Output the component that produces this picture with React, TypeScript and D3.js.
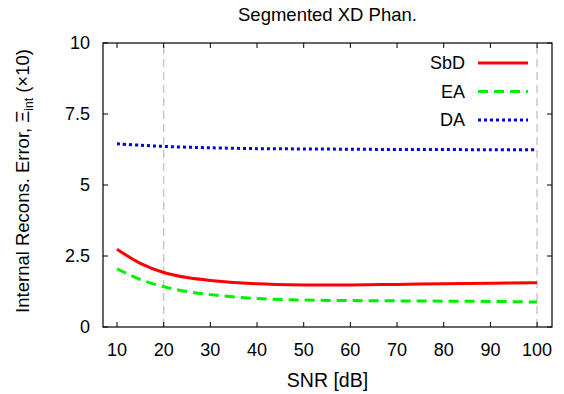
import React, { useEffect, useRef } from "react";
import * as d3 from "d3";

const snr = [10, 15, 20, 25, 30, 40, 50, 60, 70, 80, 90, 100];
const sbd = [2.74, 2.24, 1.92, 1.74, 1.64, 1.52, 1.48, 1.48, 1.5, 1.52, 1.54, 1.56];
const ea = [2.05, 1.67, 1.42, 1.25, 1.14, 1.0, 0.95, 0.93, 0.92, 0.91, 0.9, 0.88];
const da = [6.45, 6.4, 6.36, 6.33, 6.31, 6.28, 6.27, 6.26, 6.25, 6.25, 6.24, 6.24];
const xTicks = [10, 20, 30, 40, 50, 60, 70, 80, 90, 100];
const yTicks = [0, 2.5, 5, 7.5, 10];
const gridX = [20, 100];
const seriesNames = ["SbD", "EA", "DA"];

export default function App() {
  const svgRef = useRef<SVGSVGElement>(null);

  useEffect(() => {
    const w = 564;
    const h = 394;
    const m = { left: 103, right: 12, top: 43, bottom: 67 };
    const svg = d3.select(svgRef.current).attr("width", w).attr("height", h);
    svg.selectAll("*").remove();

    const x = d3.scaleLinear().domain([7, 103.2]).range([m.left, w - m.right]);
    const y = d3.scaleLinear().domain([0, 10]).range([h - m.bottom, m.top]);
    const font = "'Liberation Sans', Arial, sans-serif";

    // grid
    svg.selectAll(".grid")
      .data(gridX)
      .join("line")
      .attr("x1", (d) => x(d))
      .attr("x2", (d) => x(d))
      .attr("y1", y(0))
      .attr("y2", y(10))
      .attr("stroke", "#c8c8c8")
      .attr("stroke-width", 1.5)
      .attr("stroke-dasharray", "8,5");

    // ticks (inward, mirrored)
    const tl = 5;
    svg.selectAll(".xtb")
      .data(xTicks)
      .join("line")
      .attr("x1", (d) => x(d)).attr("x2", (d) => x(d))
      .attr("y1", y(0)).attr("y2", y(0) - tl)
      .attr("stroke", "#000");
    svg.selectAll(".xtt")
      .data(xTicks)
      .join("line")
      .attr("x1", (d) => x(d)).attr("x2", (d) => x(d))
      .attr("y1", y(10)).attr("y2", y(10) + tl)
      .attr("stroke", "#000");
    svg.selectAll(".ytl")
      .data(yTicks)
      .join("line")
      .attr("x1", x(7)).attr("x2", x(7) + tl)
      .attr("y1", (d) => y(d)).attr("y2", (d) => y(d))
      .attr("stroke", "#000");
    svg.selectAll(".ytr")
      .data(yTicks)
      .join("line")
      .attr("x1", x(103.2)).attr("x2", x(103.2) - tl)
      .attr("y1", (d) => y(d)).attr("y2", (d) => y(d))
      .attr("stroke", "#000");

    svg.append("rect")
      .attr("x", x(7)).attr("y", y(10))
      .attr("width", x(103.2) - x(7)).attr("height", y(0) - y(10))
      .attr("fill", "none").attr("stroke", "#000").attr("stroke-width", 1.2);

    // tick labels
    svg.selectAll(".xl")
      .data(xTicks)
      .join("text")
      .attr("x", (d) => x(d))
      .attr("y", y(0) + 29)
      .attr("text-anchor", "middle")
      .style("font-family", font)
      .style("font-size", "18px")
      .text((d) => d);
    svg.selectAll(".yl")
      .data(yTicks)
      .join("text")
      .attr("x", x(7) - 13)
      .attr("y", (d) => y(d) + 6)
      .attr("text-anchor", "end")
      .style("font-family", font)
      .style("font-size", "18px")
      .text((d) => d);

    // titles
    svg.append("text")
      .attr("x", (x(7) + x(103.2)) / 2)
      .attr("y", 21)
      .attr("text-anchor", "middle")
      .style("font-family", font)
      .style("font-size", "18.5px")
      .text("Segmented XD Phan.");
    svg.append("text")
      .attr("x", (x(7) + x(103.2)) / 2)
      .attr("y", 387)
      .attr("text-anchor", "middle")
      .style("font-family", font)
      .style("font-size", "19.5px")
      .text("SNR [dB]");
    const yl = svg.append("text")
      .attr("transform", `translate(29, ${(y(0) + y(10)) / 2 - 4}) rotate(-90)`)
      .attr("text-anchor", "middle")
      .style("font-family", font)
      .style("font-size", "18.5px");
    yl.append("tspan").text("Internal Recons. Error, ");
    yl.append("tspan").text("\u039E");
    yl.append("tspan").attr("dy", 4).style("font-size", "12px").text("int");
    yl.append("tspan").attr("dy", -4).text(" (\u00D710)");

    // series
    const styles = [
      { vals: sbd, color: "#ff0000", dash: null as string | null },
      { vals: ea, color: "#00ee00", dash: "10,6" },
      { vals: da, color: "#0000dd", dash: "3,3" },
    ];
    const line = d3.line<number>()
      .x((_, i) => x(snr[i]))
      .y((d) => y(d))
      .curve(d3.curveCatmullRom.alpha(0.5));
    styles.forEach((s) => {
      svg.append("path")
        .attr("d", line(s.vals))
        .attr("fill", "none")
        .attr("stroke", s.color)
        .attr("stroke-width", 3)
        .attr("stroke-dasharray", s.dash);
    });

    // legend
    const lg = svg.append("g");
    seriesNames.forEach((name, i) => {
      const ly = 63 + i * 28.5;
      lg.append("text")
        .attr("x", 465)
        .attr("y", ly + 6)
        .attr("text-anchor", "end")
        .style("font-family", font)
        .style("font-size", "18px")
        .text(name);
      lg.append("line")
        .attr("x1", 478).attr("x2", 528)
        .attr("y1", ly).attr("y2", ly)
        .attr("stroke", styles[i].color)
        .attr("stroke-width", 3)
        .attr("stroke-dasharray", styles[i].dash);
    });
  }, []);

  return (
    <div>
      <svg ref={svgRef} style={{ position: "absolute", left: 0, top: 0 }}></svg>
    </div>
  );
}
